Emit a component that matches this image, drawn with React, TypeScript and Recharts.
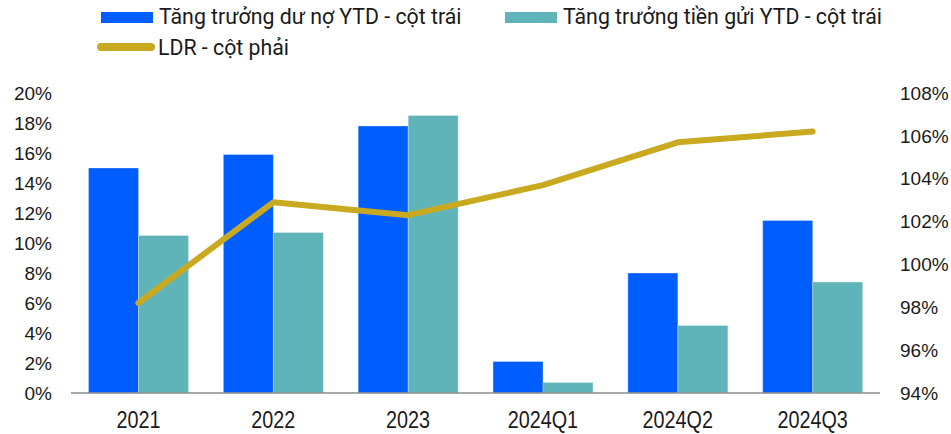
import { ComposedChart, Bar, Line, XAxis, YAxis, Legend } from "recharts";

const categories = ["2021", "2022", "2023", "2024Q1", "2024Q2", "2024Q3"];
const loanGrowth = [15.0, 15.9, 17.8, 2.1, 8.0, 11.5];
const depositGrowth = [10.5, 10.7, 18.5, 0.7, 4.5, 7.4];
const ldr = [98.2, 102.9, 102.3, 103.7, 105.7, 106.2];

const leftTicks = [0, 2, 4, 6, 8, 10, 12, 14, 16, 18, 20];
const rightTicks = [94, 96, 98, 100, 102, 104, 106, 108];

const BLUE = "#005DFF";
const TEAL = "#5FB4BA";
const GOLD = "#C8A920";

const data = categories.map((name, i) => ({
    name,
    loan: loanGrowth[i],
    deposit: depositGrowth[i],
    ldr: ldr[i],
}));

const tickFont = { fontFamily: "'Liberation Sans', Arial, sans-serif", fontSize: 19, fill: "#1a1a1a" };

// narrow category labels, squeezed horizontally like the source
function CategoryTick({ x, y, payload }: any) {
    return (
        <text
            transform={`translate(${x},${y}) scale(0.86,1)`}
            textAnchor="middle"
            dy="0.71em"
            fontFamily="'Liberation Sans', Arial, sans-serif"
            fontSize={23}
            fill="#1a1a1a"
        >
            {payload.value}
        </text>
    );
}

function ChartLegend() {
    const txt = { fontFamily: "Roboto, sans-serif", fontSize: 21.3, fill: "#1a1a1a" };
    return (
        <svg width={951} height={93} style={{ display: "block" }}>
            <rect x={101} y={12} width={52} height={11} fill={BLUE} />
            <text x={159} y={23.5} {...txt}>Tăng trưởng dư nợ YTD - cột trái</text>
            <rect x={505} y={12} width={52} height={11} fill={TEAL} />
            <text x={563} y={23.5} {...txt}>Tăng trưởng tiền gửi YTD - cột trái</text>
            <line x1={101} y1={47} x2={151} y2={47} stroke={GOLD} strokeWidth={8} strokeLinecap="round" />
            <text x={158} y={54.5} {...txt}>LDR - cột phải</text>
        </svg>
    );
}

export default function App() {
    return (
        <div style={{ position: "absolute", left: 0, top: 0, background: "#fff" }}>
            <ComposedChart
                width={951}
                height={434}
                data={data}
                margin={{ top: 0, right: 0, bottom: 0, left: 0 }}
                barCategoryGap="13%"
                barGap={0}
            >
                <Legend
                    verticalAlign="top"
                    content={() => <ChartLegend />}
                    wrapperStyle={{ left: 0, top: 0, width: 951, height: 93 }}
                />
                <XAxis
                    dataKey="name"
                    height={41}
                    tickLine={false}
                    tickSize={0}
                    tickMargin={19}
                    axisLine={{ stroke: "#8c8c8c", strokeWidth: 1.5 }}
                    tick={<CategoryTick />}
                />
                <YAxis
                    yAxisId="left"
                    width={71}
                    domain={[0, 20]}
                    ticks={leftTicks}
                    interval={0}
                    axisLine={false}
                    tickLine={false}
                    tickSize={0}
                    tickMargin={19}
                    tickFormatter={(v: number) => `${v}%`}
                    tick={tickFont}
                />
                <YAxis
                    yAxisId="right"
                    orientation="right"
                    width={71}
                    domain={[94, 108]}
                    ticks={rightTicks}
                    interval={0}
                    axisLine={false}
                    tickLine={false}
                    tickSize={0}
                    tickMargin={20}
                    tickFormatter={(v: number) => `${v}%`}
                    tick={{ ...tickFont, textAnchor: "start" }}
                />
                <Bar yAxisId="left" dataKey="loan" fill={BLUE} stroke="#ffffff" strokeOpacity={0.5} strokeWidth={0.6} isAnimationActive={false} />
                <Bar yAxisId="left" dataKey="deposit" fill={TEAL} stroke="#ffffff" strokeOpacity={0.5} strokeWidth={0.6} isAnimationActive={false} />
                <Line
                    yAxisId="right"
                    dataKey="ldr"
                    type="linear"
                    stroke={GOLD}
                    strokeWidth={6}
                    strokeLinecap="round"
                    strokeLinejoin="round"
                    dot={false}
                    activeDot={false}
                    isAnimationActive={false}
                />
            </ComposedChart>
        </div>
    );
}
